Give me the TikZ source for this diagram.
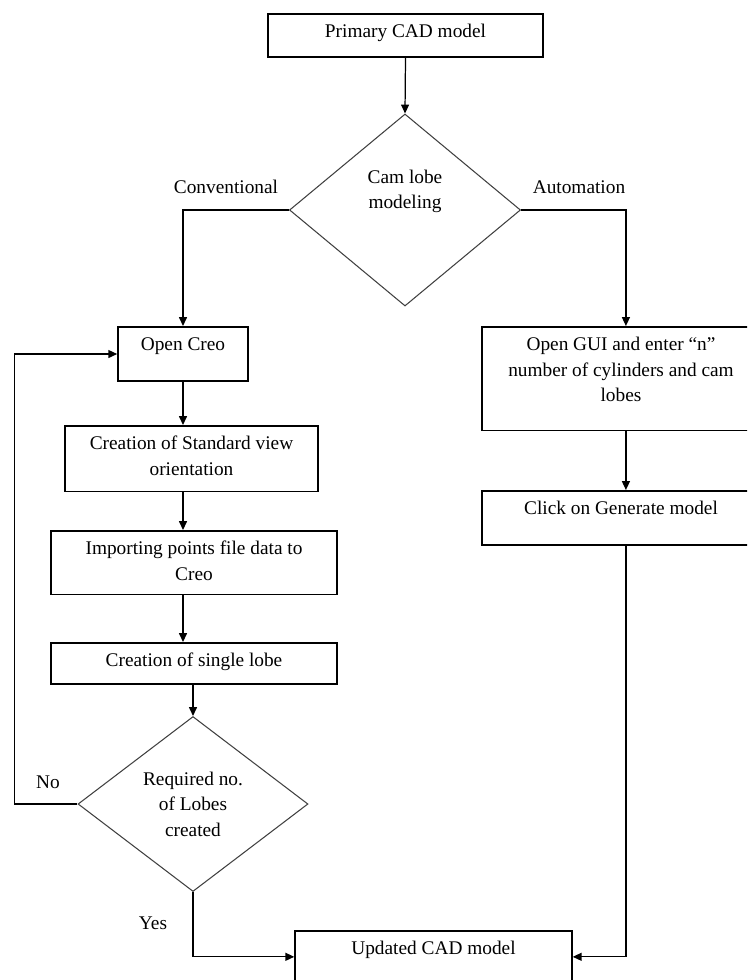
\documentclass[tikz,border=0pt]{standalone}
\usepackage{fontspec}
\setmainfont{Liberation Serif}
\usetikzlibrary{shapes.geometric,arrows.meta}
\begin{document}
\begin{tikzpicture}[x=0.02cm,y=-0.02cm,
  font=\fontsize{11}{14.5}\selectfont,
  box/.style={draw, line width=0.9pt, align=center, anchor=north, inner ysep=6pt},
  dec/.style={draw=black!75, line width=0.6pt, diamond, aspect=1.2, align=center, inner sep=0pt},
  link/.style={-{Triangle[length=5pt,width=4.5pt]}, line width=0.7pt}]
\path[use as bounding box, clip] (0,0) rectangle (747,980);

\node[box, minimum width=156.5pt, text depth=4.8pt] (prim) at (405.5,13) {Primary CAD model};
\node[dec, minimum width=131.5pt, minimum height=109.3pt, text depth=23.7pt] (cam) at (405,210) {Cam lobe\\modeling};
\node (conv) at (226,187) {Conventional};
\node (auto) at (579,187) {Automation};

% conventional branch
\node[box, minimum width=74pt, text depth=11.7pt] (creo) at (183,326) {Open Creo};
\node[box, minimum width=144pt, text depth=3.1pt] (std) at (191.5,425) {Creation of Standard view\\orientation};
\node[box, minimum width=162.8pt, text depth=2pt] (imp) at (194,530) {Importing points file data to\\Creo};
\node[box, minimum width=162.8pt, text depth=3.7pt] (lobe) at (194,642) {Creation of single lobe};
\node[dec, minimum width=130.9pt, minimum height=99.6pt] (chk) at (193,804) {Required no.\\of Lobes\\created};
\node (no) at (48,782) {No};
\node (yes) at (153,923) {Yes};

% automation branch
\node[box, minimum width=158.2pt, text depth=10.5pt] (gui) at (621,326) {Open GUI and enter “n”\\number of cylinders and cam\\lobes};
\node[box, minimum width=158.2pt, text depth=11.1pt] (click) at (621,490) {Click on Generate model};

\node[box, minimum width=157.6pt, text depth=10pt] (upd) at (433.5,930) {Updated CAD model};

\draw[link] (prim.south) -- (cam.north);
\draw[link] (cam.west) -| (creo.north);
\draw[link] (cam.east) -| ([xshift=2.8pt]gui.north);
\draw[link] (creo.south) -- (creo.south |- std.north);
\draw[link] (creo.south |- std.south) -- (creo.south |- imp.north);
\draw[link] (creo.south |- imp.south) -- (creo.south |- lobe.north);
\draw[link] (lobe.south -| chk.north) -- (chk.north);
\draw[link] (chk.west) -- ++(-63,0) |- (creo.west);
\draw[link] (chk.south) |- (upd.west);
\draw[link] ([xshift=2.8pt]gui.south) -- ([xshift=2.8pt]click.north);
\draw[link] ([xshift=2.8pt]click.south) |- (upd.east);
\end{tikzpicture}
\end{document}
